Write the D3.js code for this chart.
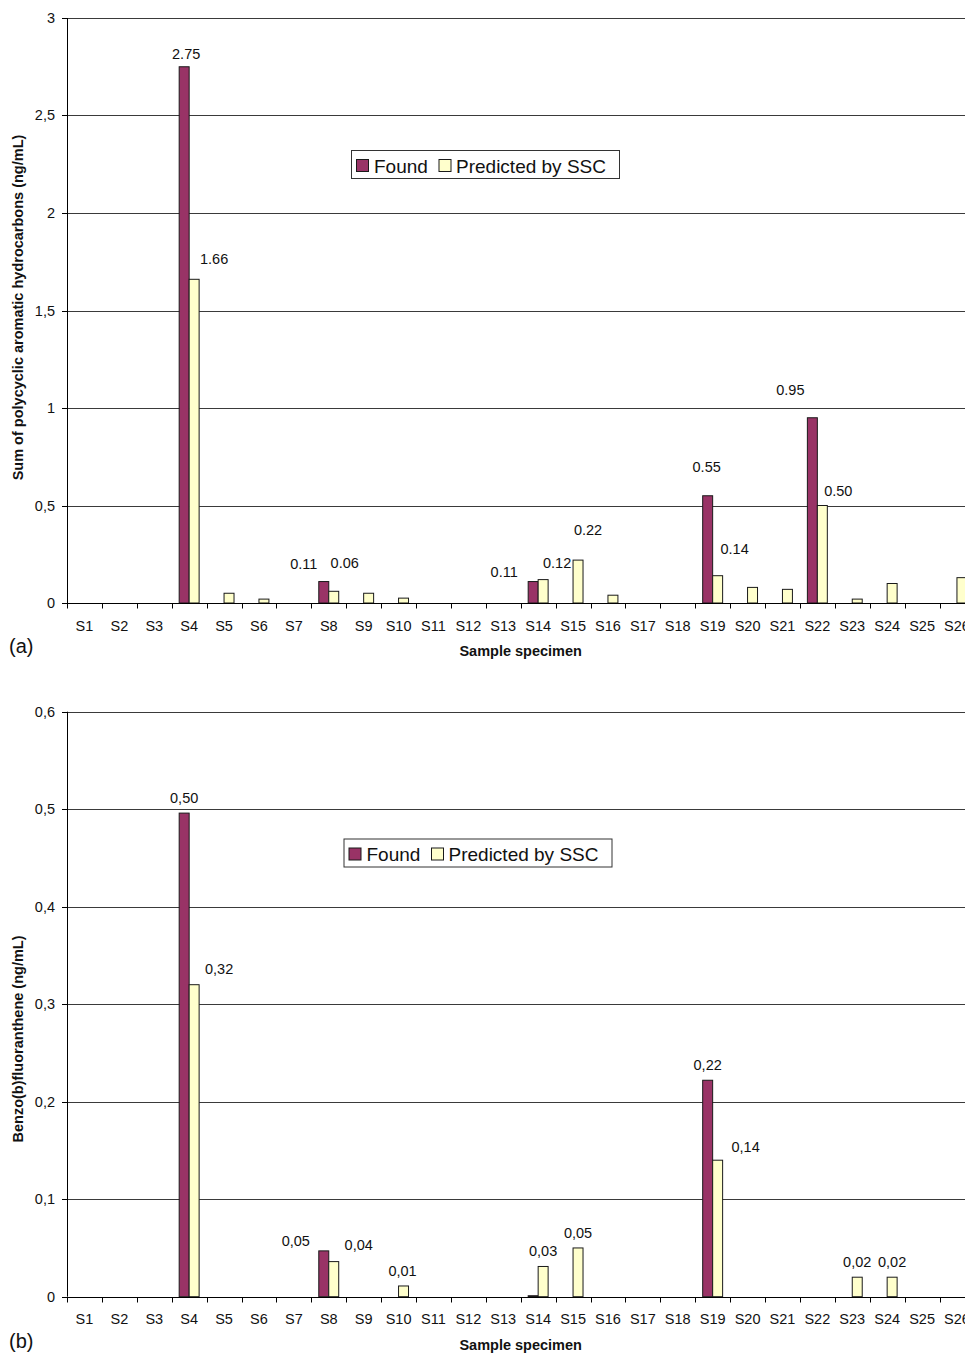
<!DOCTYPE html>
<html>
<head>
<meta charset="utf-8">
<script src="https://cdn.jsdelivr.net/npm/d3@7"></script>
<style>
  html, body { margin: 0; padding: 0; background: #fff; }
  svg { display: block; font-family: "Liberation Sans", Arial, sans-serif; }
</style>
</head>
<body>
<svg id="chart" width="965" height="1353"></svg>
<script>
// Sample specimens on the category axis
const samples = ["S1","S2","S3","S4","S5","S6","S7","S8","S9","S10","S11","S12","S13",
                 "S14","S15","S16","S17","S18","S19","S20","S21","S22","S23","S24","S25","S26"];
const seriesNames = ["Found", "Predicted by SSC"];

// (a) Sum of PAHs, ng/mL
const pahFound     = [0,0,0,2.75,0,0,0,0.11,0,0,0,0,0,0.11,0,0,0,0,0.55,0,0,0.95,0,0,0,0];
const pahPredicted = [0,0,0,1.66,0.05,0.02,0,0.06,0.05,0.025,0,0,0,0.12,0.22,0.04,0,0,0.14,0.08,0.07,0.50,0.02,0.10,0,0.13];
const pahTicks = [0, 0.5, 1, 1.5, 2, 2.5, 3];
const pahLabelledFound = ["S4","S8","S14","S19","S22"];
const pahLabelledPredicted = ["S4","S8","S14","S15","S19","S22"];

// (b) Benzo(b)fluoranthene, ng/mL
const bbfFound     = [0,0,0,0.496,0,0,0,0.047,0,0,0,0,0,0.001,0,0,0,0,0.222,0,0,0,0,0,0,0];
const bbfPredicted = [0,0,0,0.32,0,0,0,0.036,0,0.011,0,0,0,0.031,0.05,0,0,0,0.14,0,0,0,0.02,0.02,0,0];
const bbfTicks = [0, 0.1, 0.2, 0.3, 0.4, 0.5, 0.6];
const bbfLabelledFound = ["S4","S8","S19"];
const bbfLabelledPredicted = ["S4","S8","S10","S14","S15","S19","S23","S24"];

// Hand-placed data label nudges [dx, dy] (relative to the default spot above a bar)
const pahNudge = {
  found:     { S4: [2, 2], S8: [-20, -3], S14: [-29, 5], S19: [-1, -14], S22: [-22, -13] },
  predicted: { S4: [20, -5], S8: [11, -13], S14: [14, -2], S15: [10, -15], S19: [17, -12], S22: [16, 0] }
};
const bbfNudge = {
  found:     { S4: [0, 0], S8: [-28, 5], S19: [0, 0] },
  predicted: { S4: [25, -1], S8: [25, -2], S10: [-1, 0], S19: [28, 2] }
};

const COLORS = { found: "#993366", predicted: "#FFFFCC" };
const FONT = "\"Liberation Sans\", Arial, sans-serif";

const commaLocale = d3.formatLocale({ decimal: ",", thousands: ".", grouping: [3], currency: ["", ""] });
const tickFmt = commaLocale.format("~g");

const svg = d3.select("#chart");

function drawPanel(cfg) {
  const g = svg.append("g");
  const x = d3.scaleBand().domain(samples).range([cfg.left, cfg.right]).paddingInner(0).paddingOuter(0);
  const x1 = d3.scaleBand().domain(["found", "predicted"]).range([0, x.bandwidth()])
    .paddingInner(0).paddingOuter(0.75);
  const y = d3.scaleLinear().domain([0, d3.max(cfg.ticks)]).range([cfg.bottom, cfg.top]);
  const crisp = v => Math.round(v) + 0.5;

  // horizontal gridlines
  g.append("g").selectAll("line").data(cfg.ticks.filter(t => t > 0)).join("line")
    .attr("x1", cfg.left).attr("x2", cfg.right)
    .attr("y1", d => crisp(y(d))).attr("y2", d => crisp(y(d)))
    .attr("stroke", "#3a3a3a").attr("stroke-width", 1);

  // bars
  const rows = samples.map((s, i) => ({ s, found: cfg.found[i], predicted: cfg.predicted[i] }));
  ["found", "predicted"].forEach(key => {
    g.append("g").selectAll("rect").data(rows.filter(r => r[key] > 0)).join("rect")
      .attr("x", d => x(d.s) + x1(key))
      .attr("width", x1.bandwidth())
      .attr("y", d => y(d[key]))
      .attr("height", d => y(0) - y(d[key]))
      .attr("fill", COLORS[key])
      .attr("stroke", "#1a1a1a").attr("stroke-width", 1);
  });

  // y axis
  const yAxis = d3.axisLeft(y).tickValues(cfg.ticks).tickFormat(tickFmt).tickSize(5).tickPadding(7);
  const ya = g.append("g").attr("transform", `translate(${crisp(cfg.left) - 0.5},0)`).call(yAxis);
  ya.selectAll("text").attr("font-size", 14.5).attr("font-family", FONT).attr("fill", "#111");
  ya.selectAll("line,path").attr("stroke", "#000");
  ya.select(".domain").attr("d", `M0.5,${cfg.top}V${cfg.bottom}`);
  ya.selectAll(".tick").attr("transform", d => `translate(0,${crisp(y(d))})`);

  // x axis: ticks between categories
  const xg = g.append("g");
  xg.append("line").attr("x1", cfg.left).attr("x2", cfg.right)
    .attr("y1", crisp(y(0))).attr("y2", crisp(y(0))).attr("stroke", "#000");
  const bounds = samples.map(s => x(s));
  xg.selectAll("line.tk").data(bounds).join("line").attr("class", "tk")
    .attr("x1", d => crisp(d)).attr("x2", d => crisp(d))
    .attr("y1", crisp(y(0))).attr("y2", crisp(y(0)) + 5).attr("stroke", "#000");
  xg.selectAll("text").data(samples).join("text")
    .attr("x", d => x(d) + x.bandwidth() / 2)
    .attr("y", cfg.bottom + 27.5)
    .attr("text-anchor", "middle").attr("font-size", 14.5).attr("fill", "#111")
    .text(d => d);

  // data labels
  const addLabels = (key, list, nudge) => {
    g.append("g").selectAll("text").data(rows.filter(r => list.includes(r.s))).join("text")
      .attr("x", d => x(d.s) + x1(key) + x1.bandwidth() / 2 + ((nudge[key][d.s] || [0, 0])[0]))
      .attr("y", d => y(d[key]) - 10 + ((nudge[key][d.s] || [0, 0])[1]))
      .attr("text-anchor", "middle").attr("font-size", 14.5).attr("fill", "#111")
      .text(d => cfg.labelFmt(d[key]));
  };
  addLabels("found", cfg.labelFound, cfg.nudge);
  addLabels("predicted", cfg.labelPredicted, cfg.nudge);

  // legend
  const lg = g.append("g").attr("transform", `translate(${cfg.legend[0]},${cfg.legend[1]})`);
  lg.append("rect").attr("x", 0.5).attr("y", 0.5).attr("width", 268).attr("height", 28)
    .attr("fill", "#fff").attr("stroke", "#333");
  const items = [{ k: "found", name: seriesNames[0], sx: 5, tx: 23 }, { k: "predicted", name: seriesNames[1], sx: 87.5, tx: 105 }];
  items.forEach(it => {
    lg.append("rect").attr("x", it.sx + 0.5).attr("y", 9.5).attr("width", 12).attr("height", 12)
      .attr("fill", COLORS[it.k]).attr("stroke", "#1a1a1a");
    lg.append("text").attr("x", it.tx).attr("y", 22.5).attr("font-size", 19).attr("fill", "#111").text(it.name);
  });

  // axis titles and panel tag
  g.append("text").attr("transform", `translate(23,${cfg.yTitleCenter}) rotate(-90)`)
    .attr("text-anchor", "middle").attr("font-size", 14.5).attr("font-weight", "bold").attr("fill", "#111")
    .text(cfg.yTitle);
  g.append("text").attr("x", (cfg.left + cfg.right) / 2).attr("y", cfg.bottom + 53)
    .attr("text-anchor", "middle").attr("font-size", 14.5).attr("font-weight", "bold").attr("fill", "#111")
    .text("Sample specimen");
  g.append("text").attr("x", 9).attr("y", cfg.tagY).attr("font-size", 20).attr("fill", "#111").text(cfg.tag);
}

drawPanel({
  left: 67, right: 974.4, top: 18, bottom: 603,
  ticks: pahTicks, found: pahFound, predicted: pahPredicted,
  labelFound: pahLabelledFound, labelPredicted: pahLabelledPredicted, nudge: pahNudge,
  labelFmt: d3.format(".2f"),
  legend: [351, 150],
  yTitle: "Sum of polycyclic aromatic hydrocarbons (ng/mL)", yTitleCenter: 307.5,
  tag: "(a)", tagY: 653
});

drawPanel({
  left: 67, right: 974.4, top: 711.7, bottom: 1296.7,
  ticks: bbfTicks, found: bbfFound, predicted: bbfPredicted,
  labelFound: bbfLabelledFound, labelPredicted: bbfLabelledPredicted, nudge: bbfNudge,
  labelFmt: commaLocale.format(".2f"),
  legend: [343.5, 838.5],
  yTitle: "Benzo(b)fluoranthene (ng/mL)", yTitleCenter: 1039,
  tag: "(b)", tagY: 1348
});
</script>
</body>
</html>
